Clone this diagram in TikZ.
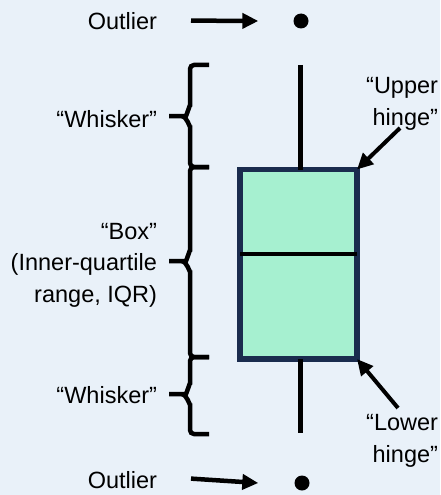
\documentclass[tikz,border=0pt]{standalone}
\usepackage{fontspec}
\setmainfont{Liberation Sans}
\usetikzlibrary{arrows.meta,calc}
\definecolor{bgc}{RGB}{233,241,249}
\definecolor{boxfill}{RGB}{166,240,208}
\definecolor{boxline}{RGB}{26,44,78}
\tikzset{
  lbl/.style={inner sep=0pt, outer sep=0pt, font=\fontsize{23.5}{31.5}\selectfont, text=black},
  bracest/.style={line width=4.5pt, rounded corners=4pt, line cap=butt},
  whisk/.style={line width=5pt},
  ptr/.style={line width=4.5pt, -{Triangle[length=16pt,width=15pt]}},
  dotst/.style={circle, fill=black, inner sep=0pt, minimum size=15pt},
  boxst/.style={draw=boxline, fill=boxfill, line width=5.5pt, inner sep=0pt, outer sep=0pt, minimum width=117pt, minimum height=189.5pt}
}
\begin{document}
\begin{tikzpicture}[x=1pt,y=-1pt]
\fill[bgc] (0,0) rectangle (440,495);
\useasboundingbox (0,0) rectangle (440,495);
% box
\node[boxst] (box) at (298.5,264.25) {};
\draw[line width=4.5pt] (box.west |- 0,254) -- (box.east |- 0,254);
% whiskers
\coordinate (wt) at (300,65);
\coordinate (wb) at (300,433);
\draw[whisk] (wt) -- (wt |- box.north);
\draw[whisk] (wb |- box.south) -- (wb);
% outliers
\node[dotst] (o1) at (301,21) {};
\node[dotst] (o2) at (302,483) {};
\node[lbl, anchor=base east] (lo1) at (157,30) {Outlier};
\node[lbl, anchor=base east] (lo2) at (157,488) {Outlier};
\draw[ptr] ($(lo1.east)+(34,-1)$) -- ($(o1.west)+(-35,0)$);
\draw[ptr] ($(lo2.east)+(34,-1)$) -- ($(o2.west)+(-36,0)$);
% braces
\draw[bracest] (209,65) -- (190,65) -- (190,109) to[out=90,in=0] (182,116) -- (169,116);
\draw[bracest] (182,116) to[out=0,in=-90] (190,123) -- (190,167) -- (209,167);
\draw[bracest] (209,167) -- (190,167) -- (190,254) to[out=90,in=0] (182,261) -- (169,261);
\draw[bracest] (182,261) to[out=0,in=-90] (190,268) -- (190,357) -- (209,357);
\draw[bracest] (209,357) -- (190,357) -- (190,387) to[out=90,in=0] (182,394) -- (169,394);
\draw[bracest] (182,394) to[out=0,in=-90] (190,401) -- (190,434) -- (209,434);
% left labels
\node[lbl, anchor=base east] (w1) at (157,127) {“Whisker”};
\node[lbl, anchor=base east] (w2) at (157,403) {“Whisker”};
\node[lbl, anchor=east, align=right] (bx) at (157,265) {“Box”\\(Inner-quartile\\range, IQR)};
% hinges
\node[lbl, anchor=east, align=right] (uh) at (438,104) {“Upper\\hinge”};
\node[lbl, anchor=east, align=right] (lh) at (438,441) {“Lower\\hinge”};
\coordinate (uhs) at (400,128);
\coordinate (lhs) at (398,408);
\draw[ptr, line width=4pt] (uhs) -- (box.north east);
\draw[ptr, line width=4pt] (lhs) -- (box.south east);
\end{tikzpicture}
\end{document}
